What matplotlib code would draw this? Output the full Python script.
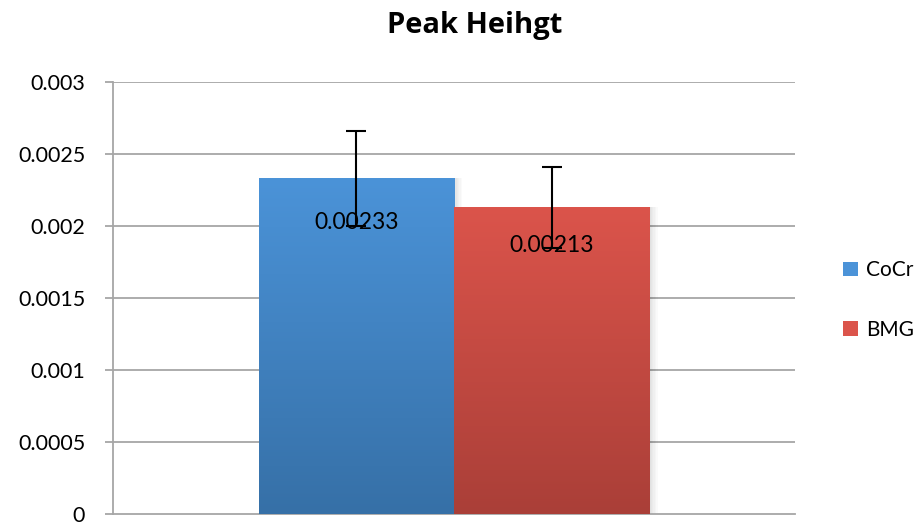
import numpy as np
import matplotlib
matplotlib.use("Agg")
import matplotlib.pyplot as plt
from matplotlib.colors import LinearSegmentedColormap
from matplotlib.patches import Rectangle

title = "Peak Heihgt"
series = ["CoCr", "BMG"]
values = [0.00233, 0.00213]
errors = [0.00033, 0.00028]
value_labels = ["0.00233", "0.00213"]
yticks = [0, 0.0005, 0.001, 0.0015, 0.002, 0.0025, 0.003]
ytick_labels = ["0", "0.0005", "0.001", "0.0015", "0.002", "0.0025", "0.003"]

top_colors = ["#4b93d8", "#db544b"]
bottom_colors = ["#3670a7", "#aa3f38"]

plt.rcParams['font.family'] = ['Open Sans', 'DejaVu Sans']

fig = plt.figure(figsize=(9.22, 5.27), dpi=100)
ax = fig.add_axes([113 / 922, 13 / 527, 682 / 922, 432 / 527])

bar_w = 0.573
xs = [-bar_w / 2, bar_w / 2]

grid_c = "#a6a6a6"
for t in yticks[1:]:
    ax.axhline(t, color=grid_c, lw=1.3, zorder=1)

for i, (x, v) in enumerate(zip(xs, values)):
    # soft shadow on the right side of each bar
    for k in range(6):
        sh = Rectangle((x - bar_w / 2 + 0.004 * (k + 1), 0), bar_w, v,
                       facecolor="black", alpha=0.018, lw=0, zorder=2)
        ax.add_patch(sh)
    rect = Rectangle((x - bar_w / 2, 0), bar_w, v, facecolor="none", lw=0, zorder=3)
    ax.add_patch(rect)
    cmap = LinearSegmentedColormap.from_list(f"g{i}", [bottom_colors[i], top_colors[i]])
    grad = np.linspace(0, 1, 256).reshape(-1, 1)
    im = ax.imshow(grad, cmap=cmap, origin="lower", aspect="auto",
                   extent=[x - bar_w / 2, x + bar_w / 2, 0, v], zorder=3)
    im.set_clip_path(rect)

ax.set_xlim(-1, 1)
ax.set_ylim(0, 0.003)

ax.errorbar(xs, values, yerr=errors, fmt="none", ecolor="black",
            elinewidth=1.5, capsize=7, capthick=1.5, zorder=5)

offsets = [-44, -38]
for x, v, lab, off in zip(xs, values, value_labels, offsets):
    ax.annotate(lab, (x, v), xytext=(0, off * 0.72), textcoords="offset points",
                ha="center", va="center", fontsize=16.5, color="black", zorder=6,
                family=["Lato", "DejaVu Sans"])

ax.set_yticks(yticks)
ax.set_yticklabels(ytick_labels, family=["Lato", "DejaVu Sans"], fontsize=15.5)
ax.tick_params(axis="y", length=6, width=1.3, color=grid_c, pad=14)
ax.set_xticks([])

for s in ["top", "right"]:
    ax.spines[s].set_visible(False)
for s in ["left", "bottom"]:
    ax.spines[s].set_color(grid_c)
    ax.spines[s].set_linewidth(1.3)

fig.text(475 / 922, 1 - 26 / 527, title, ha="center", va="center",
         fontsize=21, fontweight="bold")

# legend
handles = [Rectangle((0, 0), 1, 1, facecolor=top_colors[0]),
           Rectangle((0, 0), 1, 1, facecolor=top_colors[1])]
leg = fig.legend(handles, series, loc="center left",
                 bbox_to_anchor=(843 / 922, 1 - 300 / 527), frameon=False,
                 prop={"family": ["Lato", "DejaVu Sans"], "size": 15},
                 handlelength=0.7, handleheight=0.7, handletextpad=0.4,
                 labelspacing=1.9, borderpad=0, borderaxespad=0)

fig.savefig("out.png", dpi=100)
